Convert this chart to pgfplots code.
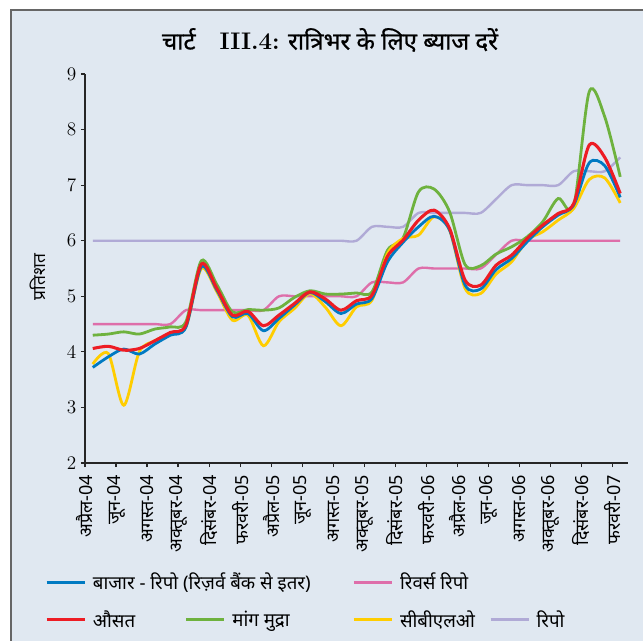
\documentclass[border=0pt]{standalone}
\usepackage{pgfplots}
\usepackage{pgfplotstable}
\pgfplotsset{compat=1.18}
\usepackage{fontspec}
\newfontfamily\deva[Script=Devanagari]{Noto Sans}
\newfontfamily\devab[Script=Devanagari, FakeBold=0.8]{Noto Sans}
\definecolor{bg}{RGB}{224,232,241}
\definecolor{cblue}{RGB}{0,122,194}
\definecolor{cred}{RGB}{237,28,36}
\definecolor{cgreen}{RGB}{110,178,62}
\definecolor{cyellow}{RGB}{255,205,0}
\definecolor{cpink}{RGB}{222,110,170}
\definecolor{clav}{RGB}{176,170,214}
\pgfplotstableread{
x     blue  red   green yellow pink  repo
0.5   3.72  4.06  4.30  3.78   4.50  6.00
1.5   3.91  4.10  4.32  3.97   4.50  6.00
2.5   4.05  4.03  4.36  3.04   4.50  6.00
3.5   3.96  4.06  4.32  4.00   4.50  6.00
4.5   4.14  4.20  4.41  4.20   4.50  6.00
5.5   4.30  4.35  4.45  4.33   4.50  6.00
6.5   4.44  4.48  4.54  4.45   4.75  6.00
7.5   5.53  5.58  5.64  5.50   4.75  6.00
8.5   5.11  5.14  5.21  5.08   4.75  6.00
9.5   4.63  4.66  4.72  4.57   4.75  6.00
10.5  4.69  4.73  4.76  4.66   4.75  6.00
11.5  4.38  4.47  4.75  4.11   4.75  6.00
12.5  4.60  4.66  4.79  4.54   5.00  6.00
13.5  4.84  4.87  4.98  4.78   5.00  6.00
14.5  5.07  5.08  5.10  5.05   5.00  6.00
15.5  4.90  4.95  5.04  4.80   5.00  6.00
16.5  4.69  4.75  5.04  4.47   5.00  6.00
17.5  4.86  4.92  5.06  4.81   5.00  6.00
18.5  4.96  5.02  5.08  4.93   5.25  6.25
19.5  5.62  5.72  5.83  5.77   5.25  6.25
20.5  5.97  6.01  6.05  6.04   5.25  6.25
21.5  6.25  6.37  6.88  6.10   5.50  6.50
22.5  6.44  6.55  6.93  6.43   5.50  6.50
23.5  6.19  6.22  6.52  6.19   5.50  6.50
24.5  5.20  5.29  5.57  5.14   5.50  6.50
25.5  5.13  5.20  5.55  5.05   5.50  6.50
26.5  5.48  5.56  5.76  5.40   5.75  6.75
27.5  5.68  5.74  5.89  5.62   6.00  7.00
28.5  5.98  6.04  6.07  6.01   6.00  7.00
29.5  6.25  6.28  6.34  6.16   6.00  7.00
30.5  6.46  6.49  6.76  6.37   6.00  7.00
31.5  6.64  6.67  6.62  6.58   6.00  7.25
32.5  7.40  7.72  8.68  7.10   6.00  7.25
33.5  7.35  7.50  8.23  7.13   6.00  7.25
34.5  6.78  6.85  7.15  6.68   6.00  7.50
}\data
\begin{document}
\begin{tikzpicture}
\fill[white] (0,0) rectangle (482.25pt,-480.75pt);
\useasboundingbox (0,0) rectangle (482.25pt,-480.75pt);
\fill[bg] (8.25pt,-7.5pt) rectangle (482.25pt,-480.75pt);
\draw[line width=1.5pt, black!60] (8.25pt,-480.75pt) -- (8.25pt,-7.5pt) -- (482.25pt,-7.5pt);
\node[font=\devab\fontsize{18}{20}\selectfont] at (247.5pt,-30pt) {चार्ट\quad{\rmfamily\bfseries III.4:} रात्रिभर के लिए ब्याज दरें};
\begin{axis}[
  at={(63.75pt,-347.25pt)}, anchor=south west,
  scale only axis, width=407.25pt, height=291.75pt,
  xmin=0, xmax=35, ymin=2, ymax=9,
  axis x line*=bottom, axis y line*=left,
  axis line style={line width=0.9pt, black!85},
  tick align=outside, major tick length=3pt,
  tick style={line width=0.9pt, black!85},
  xtick={0,2,...,34},
  xticklabels={अप्रैल-04,जून-04,अगस्त-04,अक्तूबर-04,दिसंबर-04,फरवरी-05,अप्रैल-05,जून-05,अगस्त-05,अक्तूबर-05,दिसंबर-05,फरवरी-06,अप्रैल-06,जून-06,अगस्त-06,अक्तूबर-06,दिसंबर-06,फरवरी-07},
  x tick label style={rotate=90, anchor=east, font=\deva\fontsize{13.5}{15}\selectfont},
  xticklabel shift=2.5pt,
  ytick={2,3,...,9},
  y tick label style={font=\fontsize{14.5}{16}\selectfont},
  ylabel={प्रतिशत},
  ylabel style={font=\deva\fontsize{13}{15}\selectfont, at={(axis description cs:-0.087,0.478)}, anchor=center},
  legend style={draw=none, fill=none, inner sep=0pt, at={(-0.0737,-0.282)}, anchor=north west,
    /tikz/every odd column/.append style={column sep=5pt},
    /tikz/every even column/.append style={column sep=0pt},
    nodes={inner sep=0pt, anchor=west}, row sep=14pt,
    font=\deva\fontsize{14}{16}\selectfont},
  legend columns=4, legend cell align=left,
  legend image code/.code={\draw[#1] (0pt,0pt) -- (28.5pt,0pt);},
  every axis plot/.append style={line width=2.1pt, smooth},
]
\addlegendimage{cblue, line width=2.2pt}
\addlegendentry{\makebox[69pt][l]{बाजार - रिपो (रिज़र्व बैंक से इतर)}}
\addlegendimage{empty legend}
\addlegendentry{\mbox{}}
\addlegendimage{cpink, line width=2.2pt}
\addlegendentry{\makebox[66.75pt][l]{रिवर्स रिपो}}
\addlegendimage{empty legend}
\addlegendentry{\mbox{}}
\addlegendimage{cred, line width=2.2pt}
\addlegendentry{\makebox[69pt][l]{औसत}}
\addlegendimage{cgreen, line width=2.2pt}
\addlegendentry{\makebox[90pt][l]{मांग मुद्रा}}
\addlegendimage{cyellow, line width=2.2pt}
\addlegendentry{\makebox[66.75pt][l]{सीबीएलओ}}
\addlegendimage{clav, line width=2.2pt}
\addlegendentry{रिपो}
\addplot[clav, forget plot, line width=1.8pt] table[x=x,y=repo] {\data};
\addplot[cpink, forget plot, line width=1.8pt] table[x=x,y=pink] {\data};
\addplot[cgreen, forget plot] table[x=x,y=green] {\data};
\addplot[cyellow, forget plot] table[x=x,y=yellow] {\data};
\addplot[cblue, forget plot] table[x=x,y=blue] {\data};
\addplot[cred, forget plot, line width=2.3pt] table[x=x,y=red] {\data};
\end{axis}
\end{tikzpicture}
\end{document}
